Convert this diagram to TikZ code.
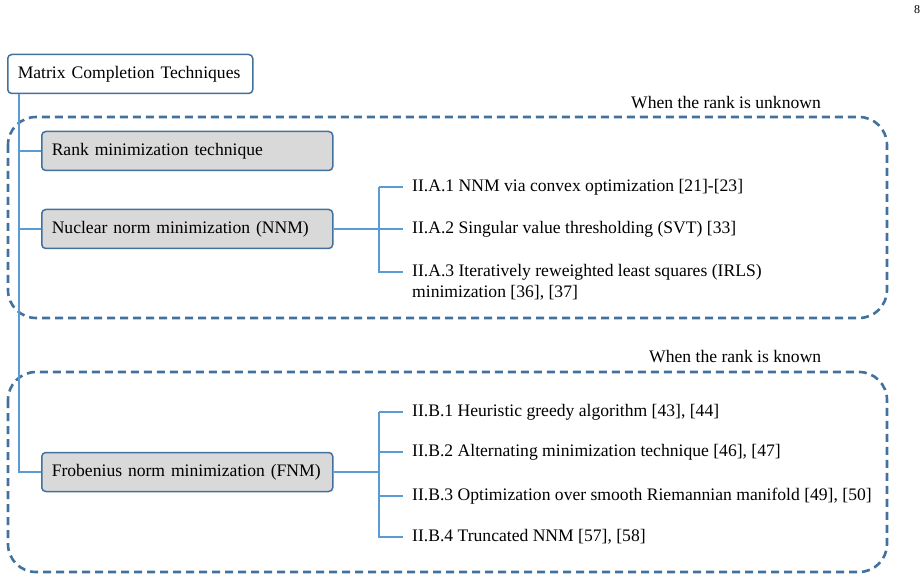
\documentclass[tikz,border=0pt]{standalone}
\usepackage{fontspec}
\setmainfont{Liberation Serif}
\definecolor{darkb}{HTML}{41719C}
\definecolor{lightb}{HTML}{5B9BD5}
\definecolor{boxgray}{HTML}{D9D9D9}
\begin{document}
\begin{tikzpicture}[x=1pt,y=-1pt,
  every node/.style={font=\fontsize{17.6}{21}\selectfont},
  rootbox/.style={draw=darkb, line width=1.5pt, fill=white, rounded corners=4pt, anchor=west, text width=225pt, minimum height=39pt, inner xsep=10pt, inner ysep=0pt, align=left},
  graybox/.style={draw=darkb, line width=1.5pt, fill=boxgray, rounded corners=4pt, anchor=west, text width=271pt, minimum height=39pt, inner xsep=10pt, inner ysep=0pt, align=left},
  leaf/.style={anchor=west, inner xsep=9pt, inner ysep=0pt, align=left},
  conn/.style={draw=lightb, line width=2pt},
  dashbox/.style={draw=darkb, line width=2.6pt, dash pattern=on 8pt off 5pt, rounded corners=28pt},
  caption/.style={anchor=west, inner sep=0pt}]
\useasboundingbox (0,0) rectangle (924,580);
% page number
\node[inner sep=0pt, font=\fontsize{12}{14}\selectfont] (pnum) at (917,10) {8};
% dashed groups
\draw[dashbox] (8,117) rectangle (887,318);
\draw[dashbox] (8,372) rectangle (887,572);
\node[caption] (cap1) at (631,103) {When the rank is unknown};
\node[caption] (cap2) at (649,357) {When the rank is known};
% main nodes
\node[rootbox] (root) at (7,74) {Matrix Completion Techniques};
\node[graybox] (rank) at (41,151) {Rank minimization technique};
\node[graybox] (nnm) at (41,229) {Nuclear norm minimization (NNM)};
\node[graybox] (fnm) at (41,472) {Frobenius norm minimization (FNM)};
% leaves
\node[leaf] (a1) at (403,187) {II.A.1 NNM via convex optimization [21]-[23]};
\node[leaf] (a2) at (403,229) {II.A.2 Singular value thresholding (SVT) [33]};
\node[leaf] (a3) at (403,282.5) {II.A.3 Iteratively reweighted least squares (IRLS)\\minimization [36], [37]};
\coordinate (a3c) at (403,272);
\node[leaf] (b1) at (403,412) {II.B.1 Heuristic greedy algorithm [43], [44]};
\node[leaf] (b2) at (403,452) {II.B.2 Alternating minimization technique [46], [47]};
\node[leaf] (b3) at (403,496) {II.B.3 Optimization over smooth Riemannian manifold [49], [50]};
\node[leaf] (b4) at (403,537) {II.B.4 Truncated NNM [57], [58]};
% trunk
\coordinate (t) at (19,93.75);
\draw[conn] (t) |- (fnm.west);
\draw[conn] (t |- rank.west) -- (rank.west);
\draw[conn] (t |- nnm.west) -- (nnm.west);
% NNM branch
\coordinate (ba) at (379,229);
\draw[conn] (nnm.east) -- (nnm.east -| ba);
\draw[conn] (ba |- a1.west) -- (a1.west);
\draw[conn] (ba |- a1.west) -- (ba |- a3c) -- (a3c);
\draw[conn] (ba |- a2.west) -- (a2.west);
% FNM branch
\coordinate (bb) at (379,472);
\draw[conn] (fnm.east) -- (fnm.east -| bb);
\draw[conn] (bb |- b1.west) -- (b1.west);
\draw[conn] (bb |- b1.west) -- (bb |- b4.west) -- (b4.west);
\draw[conn] (bb |- b2.west) -- (b2.west);
\draw[conn] (bb |- b3.west) -- (b3.west);
\end{tikzpicture}
\end{document}
